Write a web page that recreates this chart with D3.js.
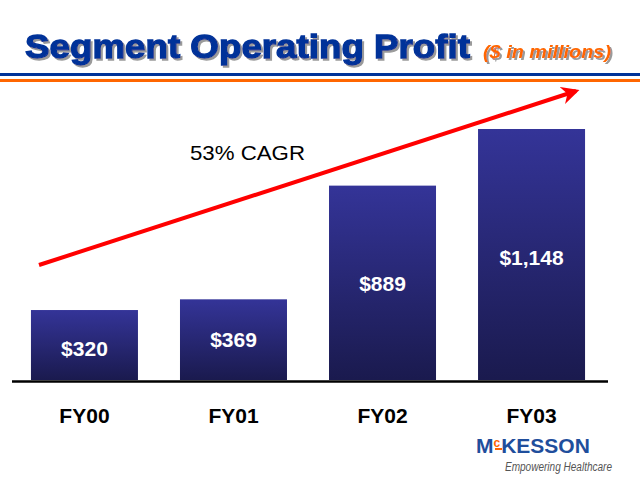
<!DOCTYPE html>
<html><head><meta charset="utf-8">
<script src="https://cdn.jsdelivr.net/npm/d3@7"></script>
<style>body{margin:0;background:#fff}svg{display:block}</style>
</head><body>
<script>
const categories = ["FY00", "FY01", "FY02", "FY03"];
const values = [320, 369, 889, 1148];
const valueLabels = ["$320", "$369", "$889", "$1,148"];
const titleText = "Segment Operating Profit";
const subtitleText = "($ in millions)";
const cagrText = "53% CAGR";

const W = 640, H = 480;
const svg = d3.select("body").append("svg").attr("width", W).attr("height", H);
const defs = svg.append("defs");
const grad = defs.append("linearGradient").attr("id", "barg").attr("x1", 0).attr("y1", 0).attr("x2", 0).attr("y2", 1);
grad.append("stop").attr("offset", "0%").attr("stop-color", "#343498");
grad.append("stop").attr("offset", "100%").attr("stop-color", "#1a1a4e");
const mk = defs.append("marker").attr("id", "ah").attr("viewBox", "0 0 10 10").attr("refX", 8).attr("refY", 5)
  .attr("markerWidth", 4.5).attr("markerHeight", 4.5).attr("orient", "auto").attr("markerUnits", "strokeWidth");
mk.append("path").attr("d", "M0,0 L10,5 L0,10 L3,5 Z").attr("fill", "#ff0000");
const sh = defs.append("filter").attr("id", "shadow").attr("x", "-5%").attr("y", "-20%").attr("width", "110%").attr("height", "140%");
sh.append("feDropShadow").attr("dx", 2).attr("dy", 2).attr("stdDeviation", 0.3).attr("flood-color", "#9a9a9a").attr("flood-opacity", 1);

// title
svg.append("text").attr("x", 25).attr("y", 58).text(titleText)
  .attr("font-family", "Liberation Sans, Arial, sans-serif").attr("font-weight", "bold").attr("font-size", 34)
  .attr("textLength", 445).attr("lengthAdjust", "spacingAndGlyphs")
  .attr("fill", "#003399").attr("stroke", "#003399").attr("stroke-width", 1.3)
  .attr("filter", "url(#shadow)");
svg.append("text").attr("x", 483).attr("y", 58).text(subtitleText)
  .attr("font-family", "Liberation Sans, Arial, sans-serif").attr("font-weight", "bold").attr("font-style", "italic").attr("font-size", 19)
  .attr("textLength", 128).attr("lengthAdjust", "spacingAndGlyphs")
  .attr("fill", "#ff6600").attr("filter", "url(#shadow)");

// rules
svg.append("rect").attr("x", 0).attr("y", 73).attr("width", W).attr("height", 3).attr("fill", "#003399");
svg.append("rect").attr("x", 0).attr("y", 79).attr("width", W).attr("height", 3).attr("fill", "#ff6600");

// scales
const x = d3.scaleBand().domain(categories).range([8.6, 607.4]).paddingInner(0.282).paddingOuter(0.15);
const y = d3.scaleLinear().domain([0, 1148]).range([380, 129]);

svg.append("g").selectAll("rect").data(values).join("rect")
  .attr("x", (d, i) => x(categories[i])).attr("width", x.bandwidth())
  .attr("y", d => y(d)).attr("height", d => y(0) - y(d))
  .attr("fill", "url(#barg)");

const labelOffsets = [3, 0, 1, 3];
svg.append("g").selectAll("text").data(values).join("text")
  .attr("x", (d, i) => x(categories[i]) + x.bandwidth() / 2)
  .attr("y", (d, i) => (y(d) + y(0)) / 2 + labelOffsets[i])
  .attr("text-anchor", "middle").attr("dominant-baseline", "central")
  .attr("font-family", "Liberation Sans, Arial, sans-serif").attr("font-weight", "bold").attr("font-size", 21)
  .attr("fill", "#ffffff").text((d, i) => valueLabels[i]);

// baseline
svg.append("line").attr("x1", 12).attr("x2", 608).attr("y1", 381.5).attr("y2", 381.5)
  .attr("stroke", "#000").attr("stroke-width", 2.5);

// category axis labels
const xAxis = d3.axisBottom(x).tickSize(0).tickPadding(0);
const ga = svg.append("g").attr("transform", "translate(0,408)").call(xAxis);
ga.select(".domain").remove();
ga.selectAll("text").attr("font-family", "Liberation Sans, Arial, sans-serif").attr("font-weight", "bold")
  .attr("font-size", 21).attr("fill", "#000").attr("dy", "0.71em");

// CAGR arrow
svg.append("line").attr("x1", 39).attr("y1", 265).attr("x2", 576).attr("y2", 91)
  .attr("stroke", "#ff0000").attr("stroke-width", 4).attr("marker-end", "url(#ah)");
svg.append("text").attr("x", 190).attr("y", 160).text(cagrText)
  .attr("font-family", "Liberation Sans, Arial, sans-serif").attr("font-size", 21).attr("fill", "#000")
  .attr("textLength", 115).attr("lengthAdjust", "spacingAndGlyphs");

// logo
const logo = svg.append("g");
logo.append("text").attr("x", 476).attr("y", 453)
  .attr("font-family", "Liberation Sans, Arial, sans-serif").attr("font-weight", "bold").attr("font-size", 21).attr("fill", "#1f4e9c")
  .call(t => {
    t.append("tspan").text("M");
    t.append("tspan").text("c").attr("font-size", 12).attr("dy", -6).attr("fill", "#ff6600");
    t.append("tspan").text("KESSON").attr("dy", 6).attr("dx", 1);
  });
logo.append("rect").attr("x", 495).attr("y", 448).attr("width", 7).attr("height", 2).attr("fill", "#ff6600");
logo.append("text").attr("x", 505).attr("y", 471).text("Empowering Healthcare")
  .attr("font-family", "Liberation Sans, Arial, sans-serif").attr("font-style", "italic").attr("font-size", 12).attr("fill", "#555")
  .attr("textLength", 107).attr("lengthAdjust", "spacingAndGlyphs");
</script>
</body></html>
